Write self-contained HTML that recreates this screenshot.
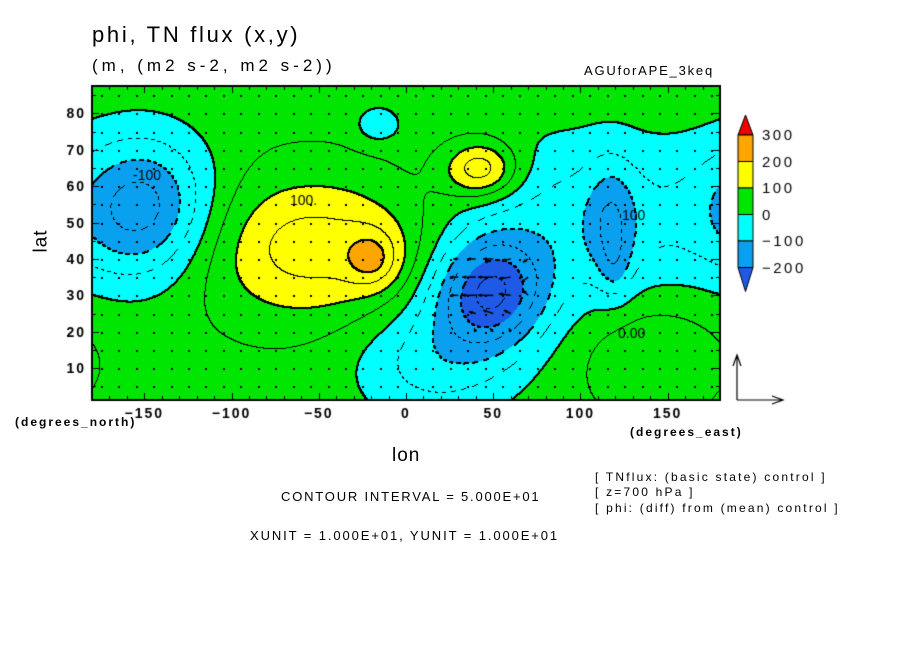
<!DOCTYPE html>
<html><head><meta charset="utf-8"><style>
body{margin:0;background:#fff;width:904px;height:654px;overflow:hidden;position:relative;font-family:"Liberation Sans",sans-serif;}
.t{position:absolute;color:#000;white-space:nowrap;}
</style></head><body>
<div class="t" style="left:92px;top:22px;font-size:22px;letter-spacing:2.7px;">phi, TN flux (x,y)</div>
<div class="t" style="left:92px;top:56px;font-size:17px;letter-spacing:4px;">(m, (m2 s-2, m2 s-2))</div>
<div class="t" style="left:584px;top:63px;font-size:13px;letter-spacing:1.8px;">AGUforAPE_3keq</div>
<canvas id="cv" width="904" height="654" style="position:absolute;left:0;top:0;"></canvas>
<div class="t" style="left:30px;top:230px;font-size:19px;letter-spacing:1px;transform:rotate(-90deg);">lat</div>
<div class="t" style="left:392px;top:445px;font-size:19px;letter-spacing:1px;">lon</div>
<div class="t" style="left:15px;top:415px;font-size:12px;font-weight:bold;letter-spacing:2px;">(degrees_north)</div>
<div class="t" style="left:630px;top:425px;font-size:12px;font-weight:bold;letter-spacing:2px;">(degrees_east)</div>
<div class="t" style="left:281px;top:489px;font-size:13px;letter-spacing:1.8px;">CONTOUR INTERVAL = 5.000E+01</div>
<div class="t" style="left:250px;top:528px;font-size:13px;letter-spacing:1.9px;">XUNIT = 1.000E+01, YUNIT = 1.000E+01</div>
<div class="t" style="left:595px;top:470px;font-size:12px;letter-spacing:2.2px;">[ TNflux: (basic state) control ]</div>
<div class="t" style="left:595px;top:485px;font-size:12px;letter-spacing:2.2px;">[ z=700 hPa ]</div>
<div class="t" style="left:595px;top:501px;font-size:12px;letter-spacing:2.2px;">[ phi: (diff) from (mean) control ]</div>
<script>
// blob model of the field
const blobLon=[-150,-52,-19,43,-16,105,16,48,118,120,140];
const blobLat=[54,43,40,64.5,77,50,12,31,50,37,15];
const blobAmp=[-200,140,100,170,-80,-110,-105,-260,-90,-50,60];
const blobSLon=[28,48,11,15,9,55,33,23,10,6,30];
const blobSLat=[14,14,5.5,5.5,3.5,17,12,11,12,6,12];
const baseValue=35;
const levels=[-200,-100,0,100,200,300];
const colors=['#1e5ae6','#0aa0f0','#00ffff','#00e600','#ffff00','#ffa500','#f00000'];
const xTicks=[-150,-100,-50,0,50,100,150];
const yTicks=[10,20,30,40,50,60,70,80];
const arrLon=[30,40,50,60,70,30,40,50,60,70,30,40,50,60,70,40,50,60,40,50,60];
const arrLat=[40,40,40,40,40,35,35,35,35,35,30,30,30,30,30,25,25,25,20,20,20];
const arrU=[-3,-5,-6,-5,-3,-5,-8,-9,-7,-4,-5,-8,-9,-7,-3,-4,-6,-4,-1,-2,-1];
const arrV=[0,0,0,-1,-2,0,0,0,-1,-3,0,0,0,1,3,1,2,2,2,2,2];
const X0=92,X1=720,Y0=86,Y1=400,LON0=-180,LON1=180,LAT0=1.25,LAT1=87.5;
const sx=l=>X0+(l-LON0)/(LON1-LON0)*(X1-X0);
const sy=l=>Y1-(l-LAT0)/(LAT1-LAT0)*(Y1-Y0);
function field(lon,lat){let f=baseValue;for(let i=0;i<blobLon.length;i++){let d=lon-blobLon[i];d=((d+540)%360)-180;const a=d/blobSLon[i],b=(lat-blobLat[i])/blobSLat[i];f+=blobAmp[i]*Math.exp(-0.5*(a*a+b*b));}return f;}
const cv=document.getElementById('cv'),ctx=cv.getContext('2d');
const W=X1-X0,H=Y1-Y0,F=new Float32Array(W*H);
for(let j=0;j<H;j++)for(let i=0;i<W;i++){F[j*W+i]=field(LON0+(i+0.5)/W*(LON1-LON0),LAT1-(j+0.5)/H*(LAT1-LAT0));}
function hex(c){return[parseInt(c.substr(1,2),16),parseInt(c.substr(3,2),16),parseInt(c.substr(5,2),16)];}
const rgb=colors.map(hex);
const img=ctx.createImageData(W,H);
for(let j=0;j<H;j++)for(let i=0;i<W;i++){const f=F[j*W+i];let k=0;while(k<levels.length&&f>=levels[k])k++;const c=rgb[k],p=(j*W+i)*4;img.data[p]=c[0];img.data[p+1]=c[1];img.data[p+2]=c[2];img.data[p+3]=255;}
// contour lines every 50
for(let j=0;j<H-1;j++)for(let i=0;i<W-1;i++){const a=Math.floor(F[j*W+i]/50),b=Math.floor(F[j*W+i+1]/50),c=Math.floor(F[(j+1)*W+i]/50);if(a!==b||a!==c){const lv=50*Math.max(a,b,c);if(lv<0&&(((i+j)>>2)&1))continue;const thick=(lv%100===0);const pts=thick?[[0,0],[1,0],[0,1],[1,1]]:[[0,0]];for(const q of pts){const ii=i+q[0],jj=j+q[1];if(ii<W&&jj<H){const p=(jj*W+ii)*4;img.data[p]=0;img.data[p+1]=0;img.data[p+2]=0;}}}}
ctx.putImageData(img,X0,Y0);
// vector dots
ctx.fillStyle='#000';
for(let lo=-175;lo<180;lo+=10)for(let la=5;la<87;la+=5){ctx.fillRect(Math.round(sx(lo)),Math.round(sy(la)),2,2);}
ctx.strokeStyle='#000';ctx.lineWidth=1.5;
for(let k=0;k<arrLon.length;k++){const x=sx(arrLon[k]),y=sy(arrLat[k]),ex=x+arrU[k]*1.7,ey=y-arrV[k]*1.7;ctx.beginPath();ctx.moveTo(x,y);ctx.lineTo(ex,ey);ctx.stroke();const ang=Math.atan2(ey-y,ex-x);ctx.beginPath();ctx.moveTo(ex,ey);ctx.lineTo(ex-4*Math.cos(ang-0.5),ey-4*Math.sin(ang-0.5));ctx.lineTo(ex-4*Math.cos(ang+0.5),ey-4*Math.sin(ang+0.5));ctx.closePath();ctx.fill();}
// contour labels
ctx.font='14px "Liberation Sans",sans-serif';
[['-100',133,180],['100.',290,205],['0.00',618,338],['100',622,220]].forEach(t=>ctx.fillText(t[0],t[1],t[2]));
// frame and ticks
ctx.lineWidth=2;ctx.strokeRect(X0,Y0,W,H);ctx.lineWidth=1;
try{ctx.letterSpacing='2px';}catch(e){}
ctx.font='bold 14px "Liberation Sans",sans-serif';ctx.textAlign='center';
for(let lo=-170;lo<180;lo+=10){const x=Math.round(sx(lo))+0.5,len=(lo%50===0)?7:4;ctx.beginPath();ctx.moveTo(x,Y1);ctx.lineTo(x,Y1-len);ctx.moveTo(x,Y0);ctx.lineTo(x,Y0+len);ctx.stroke();}
xTicks.forEach(v=>ctx.fillText(String(v).replace('-','\u2212'),sx(v),418));
ctx.textAlign='right';
for(let la=5;la<87;la+=5){const y=Math.round(sy(la))+0.5,len=(la%10===0)?7:4;ctx.beginPath();ctx.moveTo(X0,y);ctx.lineTo(X0+len,y);ctx.moveTo(X1,y);ctx.lineTo(X1-len,y);ctx.stroke();}
yTicks.forEach(v=>ctx.fillText(v,86,sy(v)+5));
// colorbar
const cbX=738,cbW=15,segH=26.5,cbTop=135;
ctx.lineWidth=1;
for(let k=0;k<7;k++){const idx=6-k;ctx.fillStyle=colors[idx];ctx.beginPath();
 if(k===0){ctx.moveTo(cbX+cbW/2,115);ctx.lineTo(cbX+cbW,cbTop);ctx.lineTo(cbX,cbTop);}
 else if(k===6){const y=cbTop+5*segH;ctx.moveTo(cbX,y);ctx.lineTo(cbX+cbW,y);ctx.lineTo(cbX+cbW/2,y+24);}
 else{const y=cbTop+(k-1)*segH;ctx.rect(cbX,y,cbW,segH);}
 ctx.closePath();ctx.fill();ctx.strokeStyle='#000';ctx.stroke();}
ctx.fillStyle='#000';ctx.textAlign='left';ctx.font='15px "Liberation Sans",sans-serif';
try{ctx.letterSpacing='2.5px';}catch(e){}
const cbl=[300,200,100,0,-100,-200];
cbl.forEach((v,k)=>ctx.fillText(String(v).replace('-','\u2212'),762,cbTop+k*segH+5));
// reference vector
ctx.lineWidth=1.2;ctx.beginPath();ctx.moveTo(737,400);ctx.lineTo(737,355);ctx.moveTo(733,366);ctx.lineTo(737,355);ctx.lineTo(741,366);
ctx.moveTo(737,400);ctx.lineTo(783,400);ctx.moveTo(772,396);ctx.lineTo(783,400);ctx.lineTo(772,404);ctx.stroke();
</script>
</body></html>
